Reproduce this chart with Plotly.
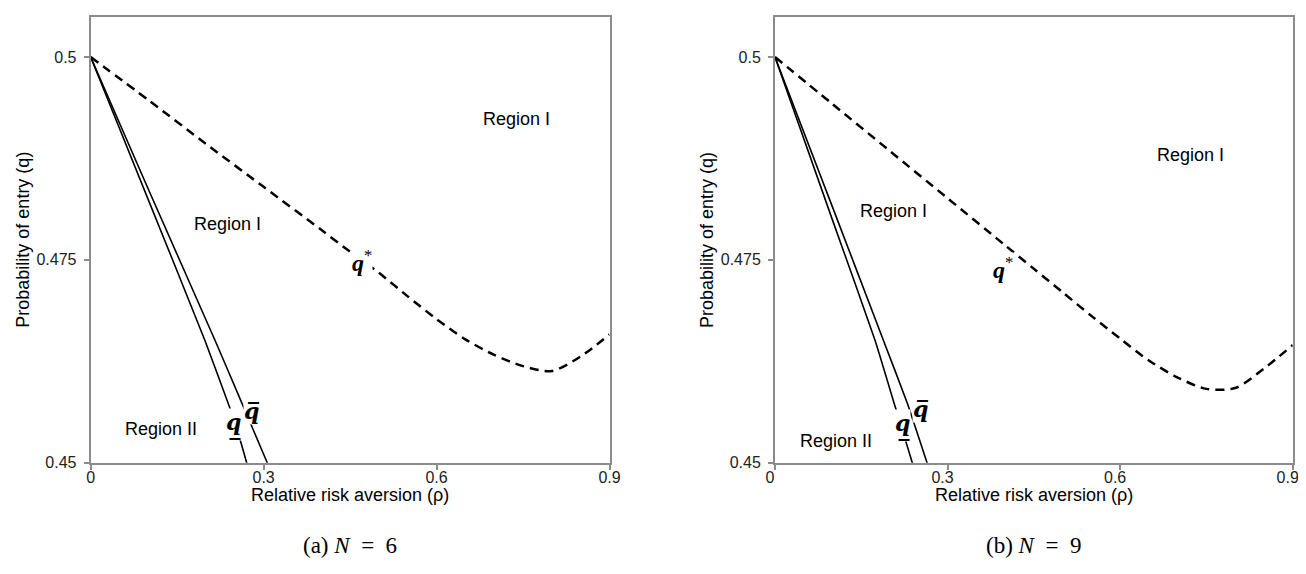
import plotly.graph_objects as go

# ---------------- data ----------------
rho_star = [0, 0.1, 0.2, 0.3, 0.4, 0.45, 0.5, 0.55, 0.6, 0.65, 0.7, 0.75, 0.8, 0.85, 0.9]
q_star_n6 = [0.5, 0.4947, 0.4893, 0.4840, 0.4787, 0.4760, 0.4734, 0.4705, 0.4677, 0.4652, 0.4633, 0.4619, 0.4613, 0.4631, 0.4658]
q_star_n9 = [0.5, 0.4942, 0.4884, 0.4826, 0.4768, 0.4739, 0.4710, 0.4681, 0.4653, 0.4626, 0.4605, 0.4591, 0.4592, 0.4616, 0.4645]

rho_qlow_n6 = [0, 0.1, 0.198, 0.2416, 0.2606, 0.2705, 0.28]
q_low_n6 = [0.5, 0.4824, 0.4651, 0.4567, 0.4525, 0.4500, 0.4476]
rho_qhigh_n6 = [0, 0.1, 0.2156, 0.2619, 0.3063, 0.315]
q_high_n6 = [0.5, 0.4837, 0.4651, 0.4574, 0.4500, 0.4486]

rho_qlow_n9 = [0, 0.1, 0.1739, 0.2098, 0.2387, 0.245]
q_low_n9 = [0.5, 0.4799, 0.4651, 0.4567, 0.4500, 0.4485]
rho_qhigh_n9 = [0, 0.1, 0.1884, 0.2307, 0.2643, 0.27]
q_high_n9 = [0.5, 0.4815, 0.4651, 0.4572, 0.4500, 0.4489]

x_ticks = [0, 0.3, 0.6, 0.9]
x_tick_labels = ["0", "0.3", "0.6", "0.9"]
y_ticks = [0.45, 0.475, 0.5]
y_tick_labels = ["0.45", "0.475", "0.5"]

x_title = "Relative risk aversion (ρ)"
y_title = "Probability of entry (q)"
captions = ["(a) <i>N</i>\u2002=\u20026", "(b) <i>N</i>\u2002=\u20029"]

# label positions (data coords) per panel
region_labels = [
    [("Region I", 0.2373, 0.4794), ("Region I", 0.7392, 0.4924), ("Region II", 0.1228, 0.4541)],
    [("Region I", 0.2066, 0.4810), ("Region I", 0.7229, 0.4879), ("Region II", 0.1052, 0.4527)],
]
qstar_pos = [(0.4704, 0.4748), (0.3964, 0.4740)]
qlow_pos = [(0.2476, 0.4547), (0.2217, 0.4546)]
qhigh_pos = [(0.2797, 0.4564), (0.2538, 0.4566)]

# ---------------- figure ----------------
# page body has an 8px margin: the figure fills the rest of the 1306x574 window
OFF = 8
W, H = 1306 - 2 * OFF, 574 - 2 * OFF


def px_x(x):
    return (x - OFF) / W


def px_y(y):
    return 1 - (y - OFF) / H


fig = go.Figure()

SANS = "Liberation Sans, Arial, sans-serif"
SERIF = "Liberation Serif, Times New Roman, serif"
CM = dict(showarrow=False, xanchor="center", yanchor="middle")

panels = [
    (q_star_n6, rho_qlow_n6, q_low_n6, rho_qhigh_n6, q_high_n6),
    (q_star_n9, rho_qlow_n9, q_low_n9, rho_qhigh_n9, q_high_n9),
]

for i, (qs, rl, ql, rh, qh) in enumerate(panels):
    xa = "x" if i == 0 else "x2"
    ya = "y" if i == 0 else "y2"
    fig.add_trace(go.Scatter(x=rho_star, y=qs, mode="lines", xaxis=xa, yaxis=ya,
                             line=dict(color="black", width=2.5, dash="9px,6px", shape="spline", smoothing=0.8),
                             showlegend=False, hoverinfo="skip"))
    fig.add_trace(go.Scatter(x=rl, y=ql, mode="lines", xaxis=xa, yaxis=ya,
                             line=dict(color="black", width=1.6, shape="spline", smoothing=0.4),
                             showlegend=False, hoverinfo="skip"))
    fig.add_trace(go.Scatter(x=rh, y=qh, mode="lines", xaxis=xa, yaxis=ya,
                             line=dict(color="black", width=1.6, shape="spline", smoothing=0.4),
                             showlegend=False, hoverinfo="skip"))

    for txt, rx, ry in region_labels[i]:
        fig.add_annotation(x=rx, y=ry, xref=xa, yref=ya, text=txt, **CM,
                           font=dict(family=SANS, size=18, color="black"))
    fig.add_annotation(x=qstar_pos[i][0], y=qstar_pos[i][1], xref=xa, yref=ya,
                       text="<b><i>q</i></b><sup>*</sup>", **CM,
                       bgcolor="white", borderpad=0,
                       font=dict(family=SERIF, size=24, color="black"))
    fig.add_annotation(x=qlow_pos[i][0], y=qlow_pos[i][1], xref=xa, yref=ya,
                       text="<b><i>q\u0332</i></b>", **CM,
                       bgcolor="white", borderpad=0,
                       font=dict(family="DejaVu Serif, serif", size=22, color="black"))
    fig.add_annotation(x=qhigh_pos[i][0], y=qhigh_pos[i][1], xref=xa, yref=ya,
                       text="<b><i>q\u0305</i></b>", **CM,
                       bgcolor="white", borderpad=0,
                       font=dict(family="DejaVu Serif, serif", size=22, color="black"))

x_domains = [[px_x(90.7), px_x(609.5)], [px_x(775), px_x(1292.7)]]
y_domain = [px_y(462.7), px_y(16.5)]

axis_common = dict(showline=True, linecolor="#8c8c8c", linewidth=2, mirror=True,
                   showgrid=False, zeroline=False, ticks="outside", ticklen=5,
                   tickcolor="#8c8c8c", tickwidth=1.5, automargin=False,
                   tickfont=dict(family=SANS, size=16, color="#222"))

panel_left_px = [90.7, 775]
label_shift = [0, -5]
for i in range(2):
    suffix = "" if i == 0 else "2"
    fig.update_layout(**{
        "xaxis" + suffix: dict(axis_common, domain=x_domains[i], range=[0, 0.9],
                               tickvals=x_ticks, ticktext=x_tick_labels,
                               anchor="y" + suffix, ticklabeloverflow="allow",
                               ticklabelstandoff=-6, ticklabelshift=label_shift[i]),
        "yaxis" + suffix: dict(axis_common, domain=y_domain, range=[0.45, 0.505],
                               tickvals=y_ticks, ticktext=y_tick_labels,
                               anchor="x" + suffix, ticklabelstandoff=4),
    })
    cx = (x_domains[i][0] + x_domains[i][1]) / 2
    # axis titles
    fig.add_annotation(x=cx, y=px_y(495), xref="paper", yref="paper", text=x_title, **CM,
                       font=dict(family=SANS, size=18, color="black"))
    fig.add_annotation(x=px_x(panel_left_px[i] - 68), y=px_y(240), xref="paper", yref="paper",
                       text=y_title, textangle=-90, **CM,
                       font=dict(family=SANS, size=18, color="black"))
    # caption
    fig.add_annotation(x=cx, y=px_y(545), xref="paper", yref="paper", text=captions[i], **CM,
                       font=dict(family=SERIF, size=23, color="black"))

fig.update_layout(width=W, height=H, margin=dict(l=0, r=0, t=0, b=0),
                  plot_bgcolor="white", paper_bgcolor="white", showlegend=False)

fig.write_html("out.html")
